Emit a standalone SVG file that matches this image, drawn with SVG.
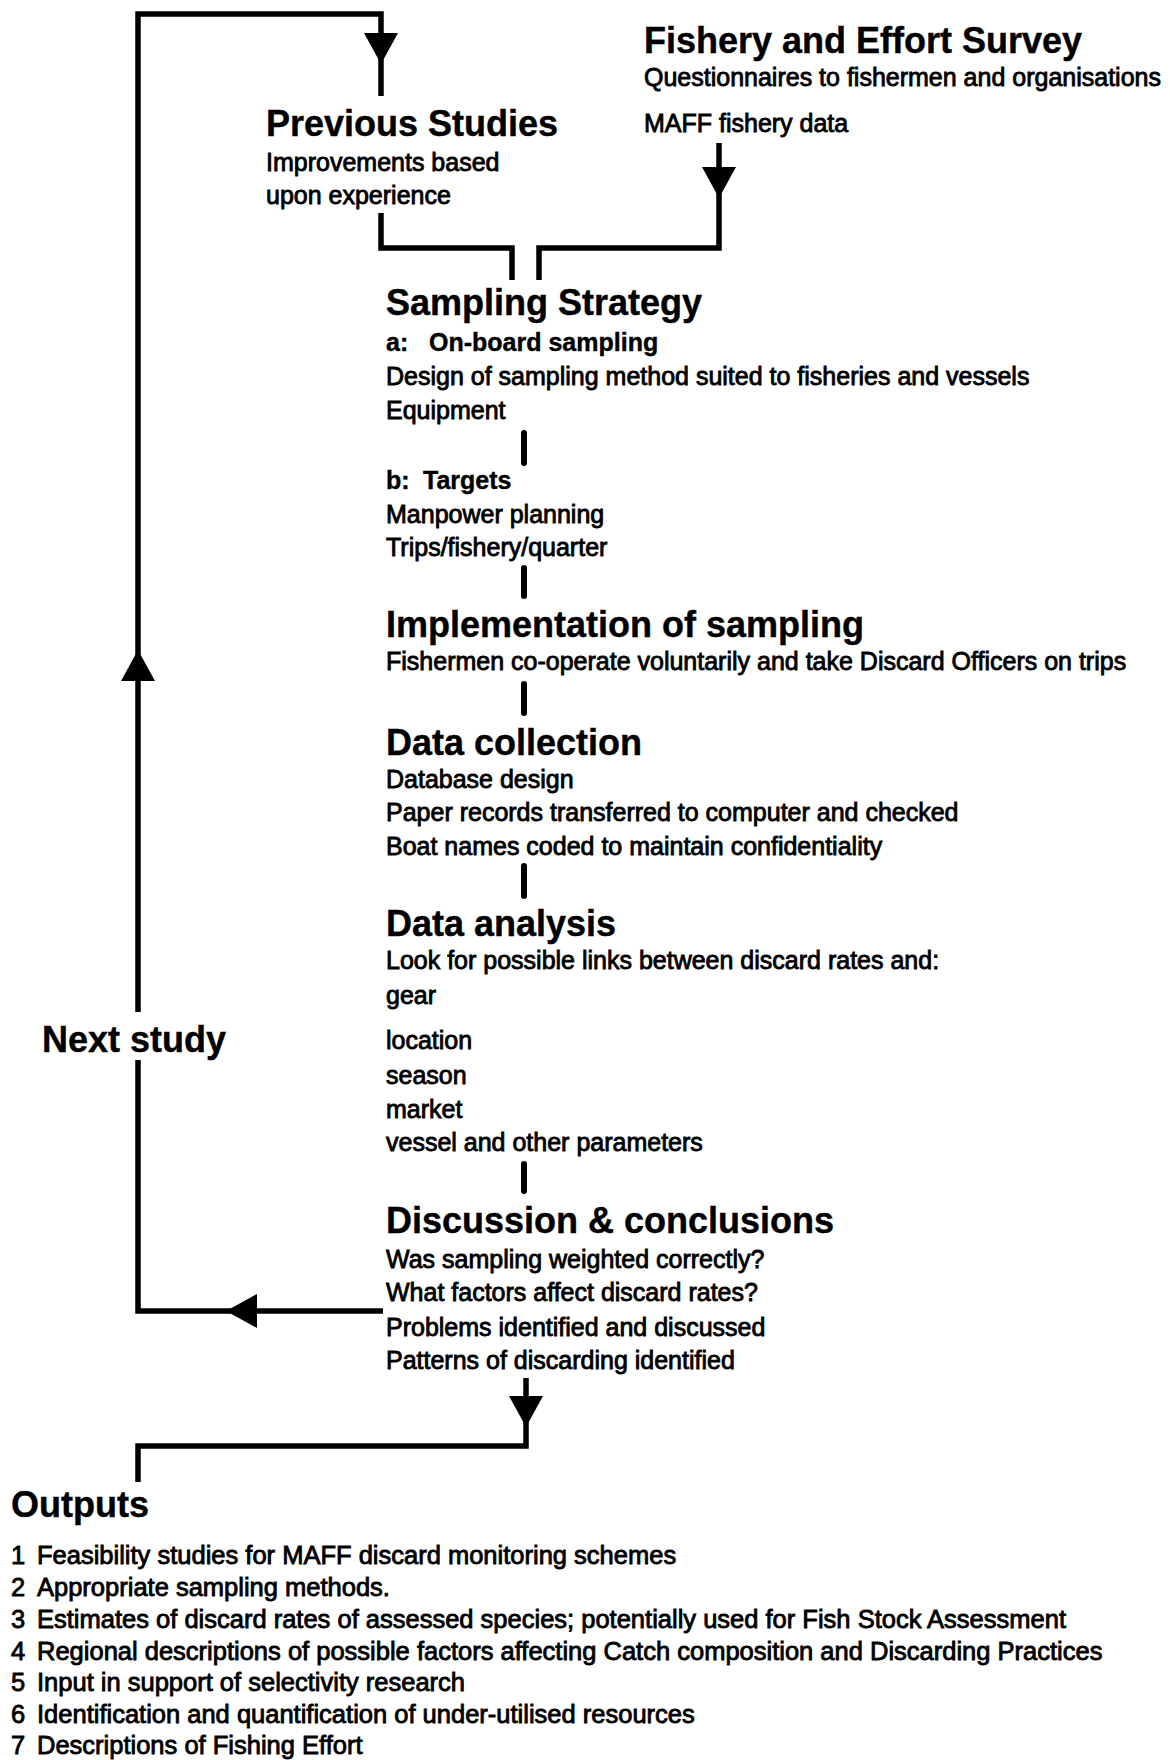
<svg xmlns="http://www.w3.org/2000/svg" xmlns:xlink="http://www.w3.org/1999/xlink" width="1170" height="1760" viewBox="0 0 1170 1760">
<style>
  text { font-family: "Liberation Sans", Arial, Helvetica, sans-serif; fill: #000; }
  .h { font-size: 36px; font-weight: bold; stroke: #000; stroke-width: 0.4; }
  .t { font-size: 25px; stroke: #000; stroke-width: 0.85; }
  .tb { font-size: 25px; font-weight: bold; stroke: #000; stroke-width: 0.4; }
  .l { font-size: 25.5px; stroke: #000; stroke-width: 0.85; }
  .ln { fill: none; stroke: #000; stroke-width: 5.5; stroke-linejoin: miter; stroke-linecap: butt; }
  .tick { fill: none; stroke: #000; stroke-width: 6; stroke-linecap: round; }
</style>
<defs>
  <path id="ah" d="M0,0 L-17,-31 L17,-31 Z" fill="#000"/>
</defs>
<rect width="1170" height="1760" fill="#fff"/>

<g id="connectors">
  <!-- feedback loop: Discussion -> Next study -> Previous Studies -->
  <polyline class="ln" points="383,1311 138,1311 138,1060"/>
  <polyline class="ln" points="138,1012 138,14 381,14 381,96"/>
  <use xlink:href="#ah" href="#ah" transform="translate(381,64)"/>
  <use xlink:href="#ah" href="#ah" transform="translate(138,650) rotate(180)"/>
  <use xlink:href="#ah" href="#ah" transform="translate(226,1311) rotate(90)"/>
  <!-- Previous Studies -> Sampling Strategy -->
  <polyline class="ln" points="381,213 381,248 512,248 512,280"/>
  <!-- Fishery and Effort Survey -> Sampling Strategy -->
  <polyline class="ln" points="539,280 539,248 719,248 719,143"/>
  <use xlink:href="#ah" href="#ah" transform="translate(719,198)"/>
  <!-- vertical ticks between stages -->
  <line class="tick" x1="524" y1="433" x2="524" y2="463"/>
  <line class="tick" x1="524" y1="568" x2="524" y2="596"/>
  <line class="tick" x1="524" y1="684" x2="524" y2="713"/>
  <line class="tick" x1="524" y1="866" x2="524" y2="896"/>
  <line class="tick" x1="524" y1="1164" x2="524" y2="1191"/>
  <!-- Discussion -> Outputs -->
  <polyline class="ln" points="526,1378 526,1446 138,1446 138,1482"/>
  <use xlink:href="#ah" href="#ah" transform="translate(526,1427)"/>
</g>

<g id="previous-studies">
  <text class="h" x="266" y="136">Previous Studies</text>
  <text class="t" x="266" y="171">Improvements based</text>
  <text class="t" x="266" y="204">upon experience</text>
</g>

<g id="fishery-effort-survey">
  <text class="h" x="644" y="53">Fishery and Effort Survey</text>
  <text class="t" x="644" y="86">Questionnaires to fishermen and organisations</text>
  <text class="t" x="644" y="132">MAFF fishery data</text>
</g>

<g id="sampling-strategy">
  <text class="h" x="386" y="315">Sampling Strategy</text>
  <text class="tb" x="386" y="351">a:<tspan x="429">On-board sampling</tspan></text>
  <text class="t" x="386" y="385">Design of sampling method suited to fisheries and vessels</text>
  <text class="t" x="386" y="419">Equipment</text>
  <text class="tb" x="386" y="489">b:<tspan x="423">Targets</tspan></text>
  <text class="t" x="386" y="523">Manpower planning</text>
  <text class="t" x="386" y="556">Trips/fishery/quarter</text>
</g>

<g id="implementation">
  <text class="h" x="386" y="637">Implementation of sampling</text>
  <text class="t" x="386" y="670">Fishermen co-operate voluntarily and take Discard Officers on trips</text>
</g>

<g id="data-collection">
  <text class="h" x="386" y="755">Data collection</text>
  <text class="t" x="386" y="788">Database design</text>
  <text class="t" x="386" y="821">Paper records transferred to computer and checked</text>
  <text class="t" x="386" y="855">Boat names coded to maintain confidentiality</text>
</g>

<g id="data-analysis">
  <text class="h" x="386" y="936">Data analysis</text>
  <text class="t" x="386" y="969">Look for possible links between discard rates and:</text>
  <text class="t" x="386" y="1004">gear</text>
  <text class="t" x="386" y="1049">location</text>
  <text class="t" x="386" y="1084">season</text>
  <text class="t" x="386" y="1118">market</text>
  <text class="t" x="386" y="1151">vessel and other parameters</text>
</g>

<g id="discussion">
  <text class="h" x="386" y="1233">Discussion &amp; conclusions</text>
  <text class="t" x="386" y="1268">Was sampling weighted correctly?</text>
  <text class="t" x="386" y="1301">What factors affect discard rates?</text>
  <text class="t" x="386" y="1336">Problems identified and discussed</text>
  <text class="t" x="386" y="1369">Patterns of discarding identified</text>
</g>

<g id="next-study">
  <text class="h" x="42" y="1052">Next study</text>
</g>

<g id="outputs">
  <text class="h" x="11" y="1517">Outputs</text>
  <text class="l" y="1564"><tspan x="11">1</tspan><tspan x="37">Feasibility studies for MAFF discard monitoring schemes</tspan></text>
  <text class="l" y="1596"><tspan x="11">2</tspan><tspan x="37">Appropriate sampling methods.</tspan></text>
  <text class="l" y="1628"><tspan x="11">3</tspan><tspan x="37">Estimates of discard rates of assessed species; potentially used for Fish Stock Assessment</tspan></text>
  <text class="l" y="1660"><tspan x="11">4</tspan><tspan x="37">Regional descriptions of possible factors affecting Catch composition and Discarding Practices</tspan></text>
  <text class="l" y="1691"><tspan x="11">5</tspan><tspan x="37">Input in support of selectivity research</tspan></text>
  <text class="l" y="1723"><tspan x="11">6</tspan><tspan x="37">Identification and quantification of under-utilised resources</tspan></text>
  <text class="l" y="1754"><tspan x="11">7</tspan><tspan x="37">Descriptions of Fishing Effort</tspan></text>
</g>
</svg>
